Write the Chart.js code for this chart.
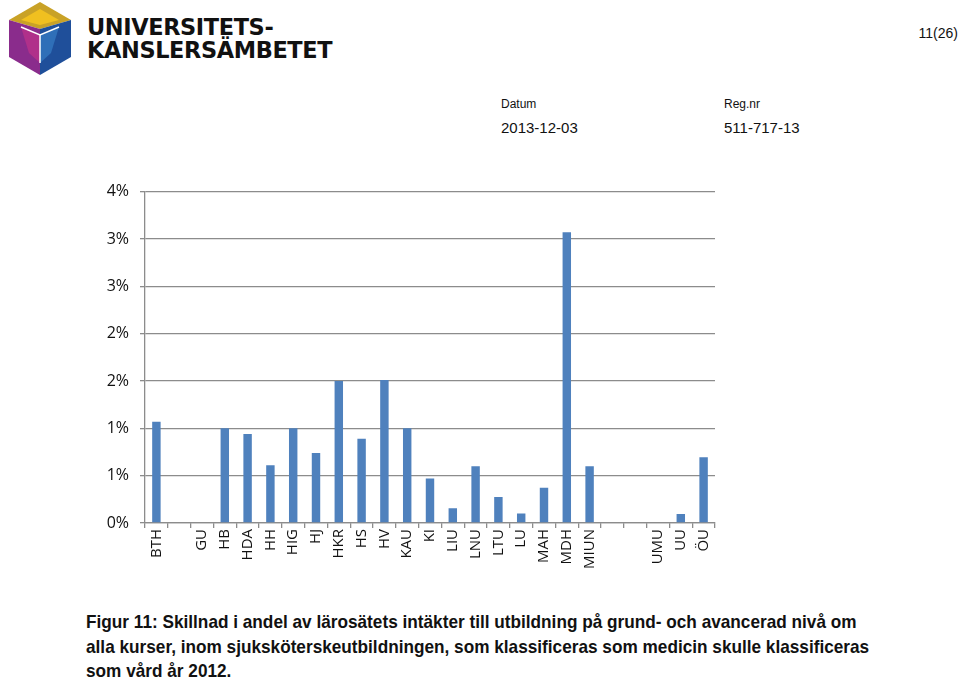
<!DOCTYPE html>
<html>
<head>
<meta charset="utf-8">
<script src="https://cdn.jsdelivr.net/npm/chart.js@4"></script>
<style>
  body { margin: 0; width: 960px; height: 681px; background: #fff; position: relative; overflow: hidden; font-family: "Liberation Sans", Arial, sans-serif; }
  .abs { position: absolute; white-space: nowrap; }
  #logoText { left: 87px; top: 16px; font-family: "DejaVu Sans", sans-serif; font-weight: 900; font-size: 23.5px; line-height: 23px; letter-spacing: -0.4px; color: #111; transform: scaleX(0.955); transform-origin: left top; }
  #page { right: 2px; top: 25px; font-size: 14px; color: #111; }
  .lbl { font-size: 12px; color: #111; }
  .val { font-size: 15px; color: #111; }
  #wrap { position: absolute; left: 90px; top: 171px; width: 640px; height: 409px; }
  #caption { left: 86px; top: 610px; font-weight: bold; font-size: 18.5px; line-height: 24.5px; color: #111; transform: scaleX(0.93); transform-origin: left top; }
</style>
</head>
<body>
<svg class="abs" style="left:7px;top:1px" width="66" height="75" viewBox="0 0 66 75">
  <polygon points="33,1 64,19 33,28 2,19" fill="#c9a227"/>
  <polygon points="33,8 52,19 33,24 14,19" fill="#f0c020"/>
  <polygon points="2,19 33,28 33,74 2,56" fill="#8a2c8c"/>
  <polygon points="33,28 64,19 64,56 33,74" fill="#1f4f9a"/>
  <polygon points="14,26 33,34 33,62 22,52" fill="#b0308a"/>
  <polygon points="33,34 52,26 44,52 33,62" fill="#2f6fb8"/>
  <polyline points="14,26 33,34 52,26" fill="none" stroke="#fff" stroke-width="1.5"/>
  <line x1="33" y1="34" x2="33" y2="62" stroke="#fff" stroke-width="1.5"/>
</svg>
<div id="logoText" class="abs">UNIVERSITETS-<br>KANSLERSÄMBETET</div>
<div id="page" class="abs">11(26)</div>
<div class="abs lbl" style="left:501px;top:97px">Datum</div>
<div class="abs lbl" style="left:724px;top:97px">Reg.nr</div>
<div class="abs val" style="left:501px;top:119px">2013-12-03</div>
<div class="abs val" style="left:724px;top:119px">511-717-13</div>
<div id="wrap"><canvas id="diffChart"></canvas></div>
<div id="caption" class="abs">Figur 11: Skillnad i andel av lärosätets intäkter till utbildning på grund- och avancerad nivå om<br>alla kurser, inom sjuksköterskeutbildningen, som klassificeras som medicin skulle klassificeras<br>som vård år 2012.</div>
<script>
// Lärosäten (tomma etiketter där diagrammet saknar namn)
const larosaten = ['BTH', '', 'GU', 'HB', 'HDA', 'HH', 'HIG', 'HJ', 'HKR', 'HS', 'HV', 'KAU', 'KI', 'LIU',
  'LNU', 'LTU', 'LU', 'MAH', 'MDH', 'MIUN', '', '', 'UMU', 'UU', 'ÖU'];
// Skillnad i andel, procent
const skillnad = [1.07, null, null, 1.0, 0.94, 0.61, 1.0, 0.74, 1.5, 0.89, 1.51, 1.0, 0.47, 0.155,
  0.6, 0.275, 0.1, 0.373, 3.07, 0.6, null, null, null, 0.095, 0.694];
const yTicks = [0, 0.5, 1, 1.5, 2, 2.5, 3, 3.5];

const grid = '#8c8c8c';

new Chart(document.getElementById('diffChart'), {
  type: 'bar',
  data: {
    labels: larosaten,
    datasets: [{
      data: skillnad,
      backgroundColor: '#4f81bd',
      barPercentage: 0.37,
      categoryPercentage: 1
    }]
  },
  options: {
    responsive: true,
    maintainAspectRatio: false,
    animation: false,
    layout: { padding: { top: 11, right: 15 } },
    plugins: { legend: { display: false }, tooltip: { enabled: false } },
    scales: {
      x: {
        grid: { offset: true, drawOnChartArea: false, drawTicks: true, tickLength: 5, color: grid, lineWidth: 1.3 },
        border: { color: grid, width: 1.3 },
        ticks: { minRotation: 90, maxRotation: 90, autoSkip: false, padding: 1, color: '#111',
          font: { family: 'Open Sans', size: 15 } },
        afterFit: s => { s.height = 57; }
      },
      y: {
        min: 0, max: 3.5,
        afterBuildTicks: s => { s.ticks = yTicks.map(v => ({ value: v })); },
        grid: { color: grid, lineWidth: 1.3, tickLength: 5 },
        border: { color: grid, width: 1.3 },
        ticks: { color: '#111', padding: 11, font: { family: 'Open Sans', size: 16 },
          callback: v => Math.round(v) + '%' },
        afterFit: s => { s.width = 55; }
      }
    }
  }
});
</script>
</body>
</html>
